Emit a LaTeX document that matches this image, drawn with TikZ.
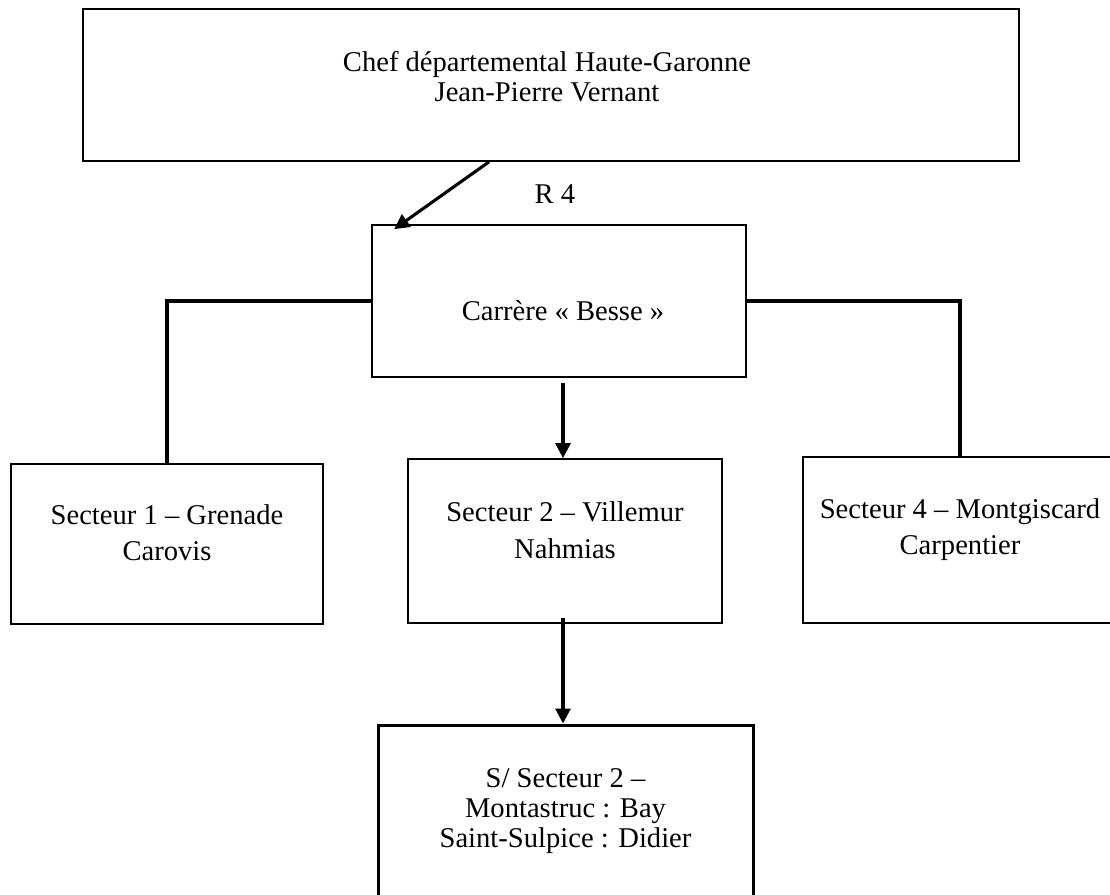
\documentclass[tikz,border=0pt]{standalone}
\usepackage{fontspec}
\setmainfont{Liberation Serif}
\usetikzlibrary{arrows.meta}
\begin{document}
\begin{tikzpicture}[x=1pt,y=-1pt,
		box/.style={draw,line width=1.7pt,inner sep=0pt},
		txt/.style={align=center,inner sep=0pt,font=\fontsize{28.6}{30}\selectfont},
		txtb/.style={txt,font=\fontsize{28.6}{36.5}\selectfont},
		lien/.style={line width=3.1pt},
		arr/.style={line width=3.1pt,-{Triangle[length=15pt,width=15pt]}}]
		    	\useasboundingbox (0,0) rectangle (1110,894);
		    	\node[box,minimum width=936pt,minimum height=152pt] (CH) at (551,85) {};
		    	\node[box,minimum width=374pt,minimum height=152pt] (CB) at (559,301) {};
		    	\node[box,minimum width=312pt,minimum height=160pt] (S1) at (167,544) {};
		    	\node[box,minimum width=314pt,minimum height=164pt] (S2) at (565,541) {};
		    	\node[box,minimum width=314pt,minimum height=166pt] (S4) at (960,540) {};
		    	\node[box,line width=3pt,minimum width=375pt,minimum height=194pt] (SS) at (565.5,822) {};
		    	
		    	\node[txt] (CHt) at (547,77) {Chef départemental Haute-Garonne\\Jean-Pierre Vernant};
		    	\node[txt] (R4) at (555,194.4) {R 4};
		    	\node[txt] (CBt) at (563,311) {Carrère « Besse »};
		    	\node[txtb] (S1t) at (167,532.8) {Secteur 1 – Grenade\\Carovis};
		    	\node[txtb] (S2t) at (565,530.3) {Secteur 2 – Villemur\\Nahmias};
		    	\node[txtb] (S4t) at (960,529.4) {Secteur 4 – Montgiscard\\Carpentier};
		    	\node[txt] (SSt) at (565.5,811) {S/ Secteur 2 –\\Montastruc : Bay\\Saint-Sulpice : Didier};
		    	
		    	\draw[arr] ([xshift=-62pt]CH.south)--([xshift=23pt,yshift=-5pt]CB.north west);
		    	\draw[lien] (CB.west)-|(S1.north);
		    	\draw[lien] (CB.east)-|(S4.north);
		    	\draw[arr] ([xshift=4pt,yshift=-5pt]CB.south)--([xshift=-2pt]S2.north);
	    	    \draw[arr] ([xshift=-2pt,yshift=6pt]S2.south)--([xshift=-2.5pt]SS.north);
		    \end{tikzpicture}
\end{document}
